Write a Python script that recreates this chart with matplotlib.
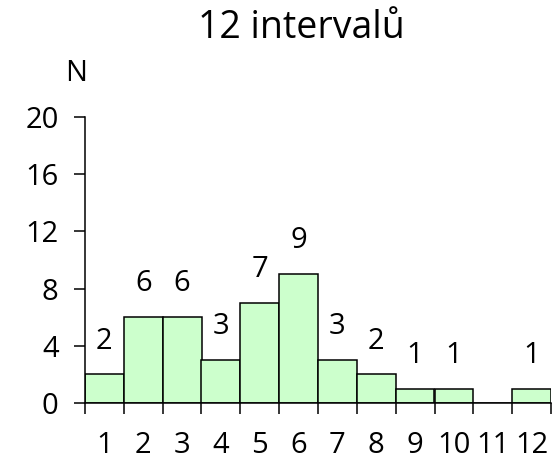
import numpy as np
import matplotlib
matplotlib.use("Agg")
import matplotlib.pyplot as plt

plt.rcParams["font.family"] = ["Open Sans", "DejaVu Sans"]

# histogram of 12 intervals
intervals = list(range(1, 13))
counts = [2, 6, 6, 3, 7, 9, 3, 2, 1, 1, 0, 1]
y_ticks = [0, 4, 8, 12, 16, 20]
title = "12 intervalů"
y_label = "N"

fig = plt.figure(figsize=(5.59, 4.62), dpi=100)
ax = fig.add_axes([85 / 559, 1 - 403 / 462, 466 / 559, 286 / 462])

x = np.arange(len(intervals))
ax.bar(x, counts, width=1.0, color="#ccffcc", edgecolor="black", linewidth=1.1)

for xi, c in zip(x, counts):
    if c > 0:
        ax.annotate(str(c), (xi, c), xytext=(0, 24), textcoords="offset points",
                    ha="center", va="center", fontsize=21)

ax.set_xlim(-0.5, len(intervals) - 0.5)
ax.set_ylim(0, 20)
ax.set_yticks(y_ticks)
ax.set_yticklabels([str(t) for t in y_ticks], fontsize=21)
ax.tick_params(axis="y", direction="out", length=8, width=1.1, pad=11)

# ticks at bar edges, labels under bar centres
ax.set_xticks(np.arange(len(intervals) + 1) - 0.5)
ax.set_xticklabels([])
ax.set_xticks(x, minor=True)
ax.set_xticklabels([str(i) for i in intervals], minor=True, fontsize=21)
ax.tick_params(axis="x", which="major", direction="out", length=8, width=1.1)
ax.tick_params(axis="x", which="minor", length=0, pad=20)

for s in ["top", "right"]:
    ax.spines[s].set_visible(False)
for s in ["left", "bottom"]:
    ax.spines[s].set_linewidth(1.1)

fig.text(301 / 559, 1 - 28 / 462, title, ha="center", va="center", fontsize=27)
fig.text(76.5 / 559, 1 - 73.5 / 462, y_label, ha="center", va="center", fontsize=21)

fig.savefig("out.png", dpi=100)
